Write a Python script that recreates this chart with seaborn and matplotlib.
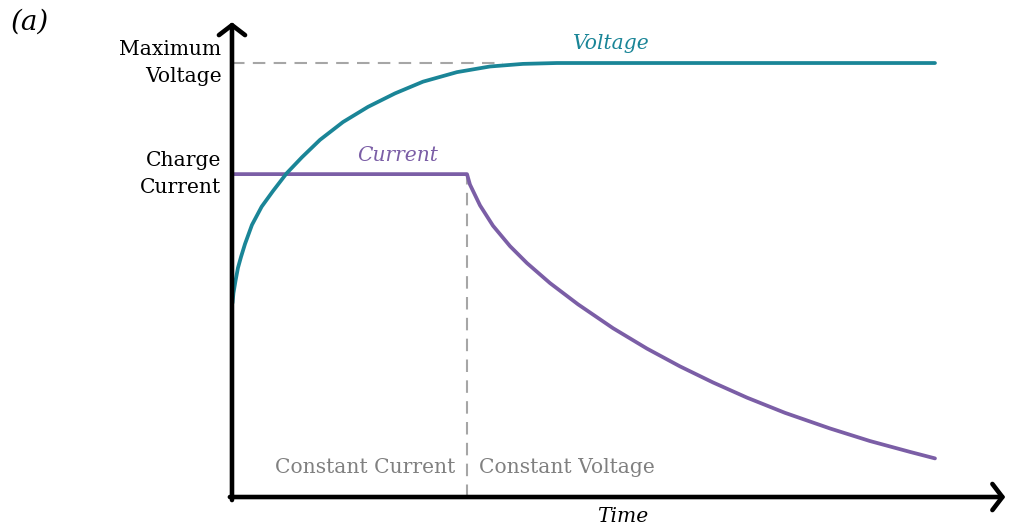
import matplotlib
matplotlib.use("Agg")
import matplotlib.pyplot as plt
import seaborn as sns
import pandas as pd

# Charging profile: time in arbitrary units, levels normalised to the maximum voltage
volt_t = [0.007, 0.021, 0.050, 0.085, 0.128, 0.185, 0.284, 0.422, 0.583, 0.778,
          0.996, 1.252, 1.579, 1.935, 2.319, 2.717, 3.201, 3.670, 4.139, 4.623,
          10.0]
volt_v = [0.447, 0.470, 0.498, 0.528, 0.553, 0.583, 0.627, 0.669, 0.705, 0.746,
          0.783, 0.823, 0.864, 0.899, 0.930, 0.957, 0.979, 0.992, 0.998, 1.0,
          1.0]

curr_t = [0.0, 3.343, 3.385, 3.528, 3.713, 3.955, 4.196, 4.523, 4.922, 5.420,
          5.903, 6.373, 6.842, 7.326, 7.866, 8.506, 9.075, 9.644, 10.0]
curr_i = [0.744, 0.744, 0.720, 0.672, 0.625, 0.578, 0.539, 0.493, 0.444, 0.389,
          0.342, 0.301, 0.264, 0.229, 0.194, 0.158, 0.129, 0.104, 0.089]

max_voltage = 1.0
charge_current = 0.744
cc_end = 3.343

tick_labels = ["Maximum\nVoltage", "Charge\nCurrent"]
phase_labels = ["Constant Current", "Constant Voltage"]

TEAL = "#1a8597"
PURPLE = "#7b5ea6"
DASH = "#a6a6a6"
GREY_TXT = "#808080"

sns.set_theme(style="white")
plt.rcParams["font.family"] = ["DejaVu Serif"]

fig = plt.figure(figsize=(10.09, 5.31), dpi=100)
ax = fig.add_axes([0, 0, 1, 1])
ax.set_xlim(-3.300, 11.053)
ax.set_ylim(-0.0783, 1.1452)
ax.axis("off")

volt_df = pd.DataFrame({"t": volt_t, "v": volt_v})
curr_df = pd.DataFrame({"t": curr_t, "i": curr_i})

# guide lines
ax.plot([0, 3.85], [max_voltage, max_voltage], color=DASH, lw=1.5,
        dashes=(6, 4), zorder=1)
ax.plot([cc_end, cc_end], [0, charge_current], color=DASH, lw=1.5,
        dashes=(6, 4), zorder=1)

sns.lineplot(data=curr_df, x="t", y="i", ax=ax, color=PURPLE, lw=2.7,
             sort=False, estimator=None, zorder=3)
sns.lineplot(data=volt_df, x="t", y="v", ax=ax, color=TEAL, lw=2.7,
             sort=False, estimator=None, zorder=4)
for ln in ax.lines:
    ln.set_solid_joinstyle("round")
    ln.set_solid_capstyle("round")

# axes with open arrow heads
arrow = dict(arrowstyle="->, head_length=0.36, head_width=0.47",
             lw=3.3, color="black", mutation_scale=20, shrinkA=0, shrinkB=0)
ax.annotate("", xy=(11.0, 0), xytext=(-0.03, 0), arrowprops=arrow, zorder=5)
ax.annotate("", xy=(0, 1.094), xytext=(0, -0.007), arrowprops=arrow, zorder=5)

fs = 14.6
ax.text(-0.15, max_voltage, tick_labels[0], ha="right", va="center",
        fontsize=fs, linespacing=1.55, color="black")
ax.text(-0.15, charge_current, tick_labels[1], ha="right", va="center",
        fontsize=fs, linespacing=1.55, color="black")

ax.text(5.4, 1.046, "Voltage", ha="center", va="center", fontsize=fs,
        style="italic", color=TEAL)
ax.text(2.36, 0.788, "Current", ha="center", va="center", fontsize=fs,
        style="italic", color=PURPLE)

ax.text(cc_end - 0.17, 0.067, phase_labels[0], ha="right", va="center",
        fontsize=fs, color=GREY_TXT)
ax.text(cc_end + 0.17, 0.067, phase_labels[1], ha="left", va="center",
        fontsize=fs, color=GREY_TXT)

ax.text(5.56, -0.046, "Time", ha="center", va="center", fontsize=fs,
        style="italic", color="black")
ax.text(-2.88, 1.094, "(a)", ha="center", va="center", fontsize=20,
        style="italic", color="black")

fig.savefig("out.png", dpi=100)
